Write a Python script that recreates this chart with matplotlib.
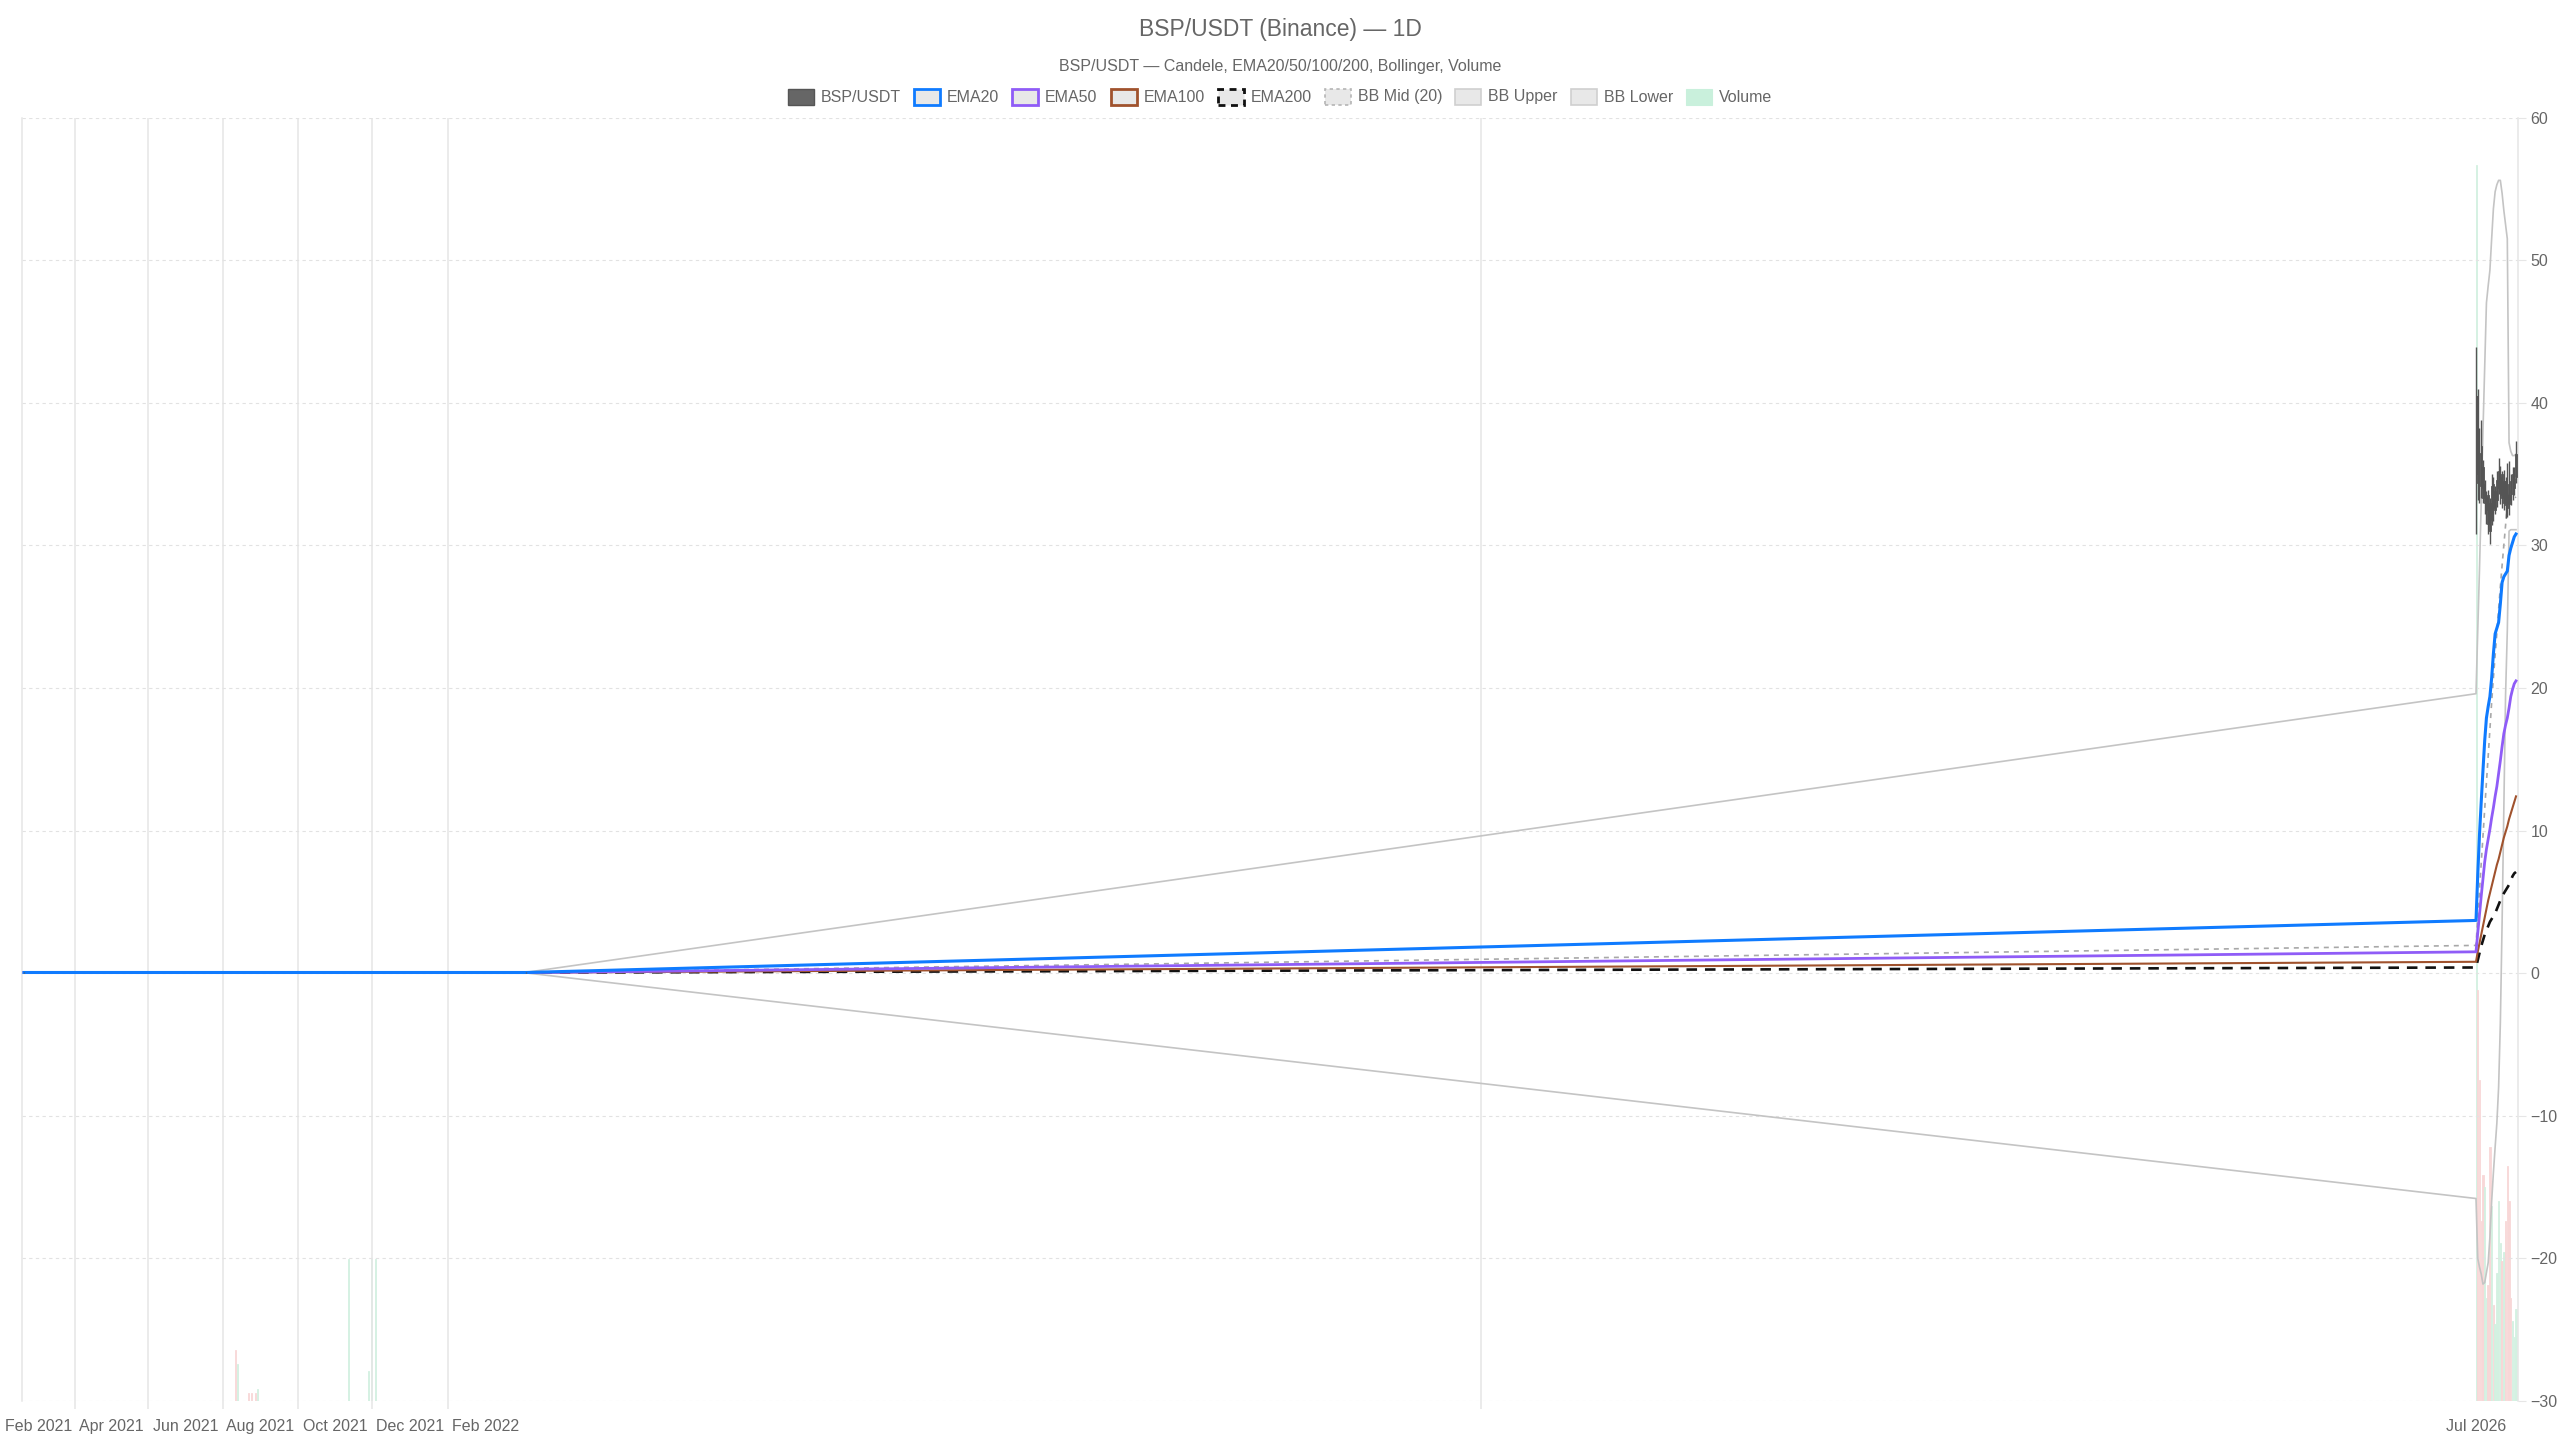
import numpy as np
import pandas as pd
import matplotlib
matplotlib.use('Agg')
import matplotlib.pyplot as plt
import matplotlib.dates as mdates
from matplotlib.patches import Rectangle
from matplotlib.ticker import FixedLocator, NullFormatter

plt.rcParams['font.family'] = ['Liberation Sans', 'DejaVu Sans']

# ---------------- data ----------------
# early listing period (price ~0) and the July 2026 run
early_dates = ['2021-01-20', '2022-03-06']
late_dates = pd.date_range('2026-07-01', '2026-07-24', freq='D').strftime('%Y-%m-%d').tolist()

early_open = [0.05, 0.04]
early_high = [0.06, 0.05]
early_low = [0.04, 0.03]
early_close = [0.05, 0.04]

late_open = [34.4, 40.5, 36.5, 37.0, 35.5, 33.0, 32.5, 33.5, 33.0, 31.8, 34.3, 32.5,
             33.2, 34.0, 33.5, 35.0, 33.0, 34.5, 34.3, 33.5, 34.5, 33.6, 34.0, 34.8]
late_high = [43.9, 41.0, 38.2, 38.8, 36.0, 34.6, 33.8, 33.9, 33.3, 35.0, 34.8, 34.2,
             35.2, 36.1, 35.6, 35.2, 35.3, 34.8, 35.8, 35.9, 35.0, 35.5, 35.5, 37.3]
late_low = [30.8, 33.2, 33.0, 33.3, 33.0, 32.2, 31.5, 30.8, 30.1, 31.4, 31.7, 32.2,
            32.7, 33.6, 32.9, 32.6, 32.5, 31.9, 32.0, 32.1, 32.8, 33.2, 33.5, 34.4]
late_close = [40.5, 35.0, 34.2, 34.0, 33.3, 34.3, 33.4, 31.5, 31.0, 34.2, 32.6, 33.8,
              34.6, 35.2, 34.8, 33.3, 34.5, 32.8, 32.6, 32.9, 33.2, 35.0, 34.7, 36.4]

ema20 = [0.05, 0.05,
         3.7, 6.9, 9.7, 12.0, 14.2, 16.3, 17.9, 18.7, 19.4, 20.7, 22.4, 23.8,
         24.2, 24.6, 25.9, 27.4, 27.8, 28.0, 28.2, 29.3, 29.8, 30.2, 30.6, 30.8]
ema50 = [0.05, 0.04,
         1.5, 2.8, 4.1, 5.4, 6.6, 7.8, 8.7, 9.4, 10.1, 10.9, 11.6, 12.4,
         13.1, 14.0, 14.9, 15.9, 16.8, 17.4, 17.9, 18.6, 19.4, 19.9, 20.3, 20.5]
ema100 = [0.05, 0.04,
          0.8, 1.5, 2.1, 2.7, 3.3, 3.9, 4.5, 5.1, 5.6, 6.1, 6.6, 7.1,
          7.6, 8.0, 8.5, 9.0, 9.5, 9.9, 10.3, 10.8, 11.2, 11.6, 12.0, 12.4]
ema200 = [0.05, 0.04,
          0.4, 0.9, 1.4, 1.9, 2.3, 2.7, 3.0, 3.3, 3.6, 3.8, 4.0, 4.2,
          4.5, 4.8, 5.1, 5.4, 5.6, 5.8, 6.0, 6.2, 6.5, 6.8, 7.0, 7.1]
bb_mid = [0.05, 0.04,
          1.95, 3.9, 5.8, 7.7, 9.6, 11.5, 13.4, 15.2, 17.1, 19.0, 20.7, 22.3,
          23.9, 25.5, 27.1, 28.6, 30.0, 31.4, 32.8, 33.9, 33.7, 33.5, 33.3, 33.4]
bb_upper = [0.07, 0.06,
            19.6, 24.0, 28.3, 33.0, 38.0, 42.5, 47.0, 48.2, 49.3, 51.5, 53.6, 54.8,
            55.3, 55.6, 55.6, 54.7, 53.5, 52.5, 51.5, 37.2, 36.6, 36.3, 36.3, 36.4]
bb_lower = [0.03, 0.02,
            -15.8, -20.0, -20.6, -21.1, -21.8, -21.7, -21.0, -20.3, -18.5, -16.0, -14.0, -12.2,
            -10.5, -8.0, -3.5, 3.5, 11.5, 19.5, 24.0, 31.0, 31.1, 31.1, 31.1, 31.1]

# volume (thousands)
early_vol_dates = ['2021-07-12', '2021-07-13', '2021-07-22', '2021-07-25', '2021-07-28',
                   '2021-07-30', '2021-10-12', '2021-10-28', '2021-10-31', '2021-11-03']
early_vol = [40, 29, 6, 6, 6, 9, 111, 23, 111, 111]
early_vol_up = [False, True, False, False, False, True, True, True, True, True]
late_vol = [963, 320, 250, 140, 176, 167, 80, 90, 198, 152, 75, 60,
            100, 156, 123, 109, 116, 140, 183, 156, 80, 62, 50, 72]

tick_dates = ['2021-02-01', '2021-04-01', '2021-06-01', '2021-08-01', '2021-10-01',
              '2021-12-01', '2022-02-01', '2026-07-01']
tick_labels = ['Feb 2021', 'Apr 2021', 'Jun 2021', 'Aug 2021', 'Oct 2021',
               'Dec 2021', 'Feb 2022', 'Jul 2026']

# ---------------- time axis (gap between listings compressed) ----------------
def dn(d):
    return mdates.date2num(pd.to_datetime(d))

seg_d = dn([early_dates[0], early_dates[-1], late_dates[0], late_dates[-1]])
seg_p = np.array([24.0, 526.0, 2476.0, 2516.0])
r0 = (seg_p[1] - seg_p[0]) / (seg_d[1] - seg_d[0])
r1 = (seg_p[3] - seg_p[2]) / (seg_d[3] - seg_d[2])
anc_d = np.concatenate([[seg_d[0] - 5000], seg_d, [seg_d[3] + 5000]])
anc_p = np.concatenate([[seg_p[0] - 5000 * r0], seg_p, [seg_p[3] + 5000 * r1]])

def fwd(x):
    return np.interp(np.asarray(x, dtype=float), anc_d, anc_p)

def inv(p):
    return np.interp(np.asarray(p, dtype=float), anc_p, anc_d)

# ---------------- figure ----------------
W, H = 2560, 1440
fig = plt.figure(figsize=(25.6, 14.4), dpi=100)
fig.patch.set_facecolor('white')
left_px, right_px, top_px, bot_px = 22, 2518, 117.6, 1401
ax = fig.add_axes([left_px / W, 1 - bot_px / H, (right_px - left_px) / W, (bot_px - top_px) / H])
ax.set_xscale('function', functions=(fwd, inv))
axv = ax.twinx()
ax.set_zorder(2)
axv.set_zorder(1)
ax.patch.set_visible(False)

text_c = '#666666'
grid_c = '#e6e6e6'

all_dates = dn(early_dates + late_dates)
ld = dn(late_dates)

# volume
vol_x = np.concatenate([dn(early_vol_dates), ld])
vol_y = early_vol + late_vol
vol_up = early_vol_up + [c >= o for o, c in zip(late_open, late_close)]
vol_col = ['#d3f1e1' if u else '#f8d7d7' for u in vol_up]
axv.bar(vol_x, vol_y, width=0.8, color=vol_col, linewidth=0.6, edgecolor=vol_col)
axv.set_ylim(0, 1000)
axv.yaxis.set_visible(False)
for s in axv.spines.values():
    s.set_visible(False)

# bollinger
ax.plot(all_dates, bb_upper, color='#c4c4c4', lw=1.2, zorder=2)
ax.plot(all_dates, bb_lower, color='#c4c4c4', lw=1.2, zorder=2)
ax.plot(all_dates, bb_mid, color='#a8a8a8', lw=1.2, ls=(0, (3, 3)), zorder=3)

# EMAs
ax.plot(all_dates, ema200, color='#111111', lw=1.9, ls=(0, (4, 3)), zorder=4)
ax.plot(all_dates, ema100, color='#a0522d', lw=1.5, zorder=5)
ax.plot(all_dates, ema50, color='#8f5cf7', lw=2.0, zorder=6)
ax.plot(all_dates, ema20, color='#0f7bff', lw=2.2, zorder=7)

# candles
c_open = early_open + late_open
c_high = early_high + late_high
c_low = early_low + late_low
c_close = early_close + late_close
body_lo = np.minimum(c_open, c_close)
body_h = np.abs(np.array(c_close) - np.array(c_open))
ax.vlines(all_dates, c_low, c_high, color='#555555', lw=1.0, zorder=8)
ax.bar(all_dates, body_h, bottom=body_lo, width=0.8, color='#555555',
       edgecolor='#555555', linewidth=0.6, zorder=9)

# axes styling
ax.set_xlim(inv(left_px), inv(right_px))
ax.set_ylim(-30, 60)
ax.yaxis.tick_right()
ax.set_yticks(range(-30, 61, 10))
ax.tick_params(axis='y', which='major', length=6, color=grid_c, width=0.8,
               labelsize=11.5, labelcolor=text_c, pad=3)
ax.grid(axis='y', which='major', color='#e2e2e2', lw=0.8, ls=(0, (3, 3)))

td = dn(tick_dates)
tp = fwd(td)
mids = inv((tp[:-1] + tp[1:]) / 2)
ax.xaxis.set_major_locator(FixedLocator(td))
ax.set_xticklabels(tick_labels)
ax.xaxis.set_minor_locator(FixedLocator(mids))
ax.xaxis.set_minor_formatter(NullFormatter())
ax.tick_params(axis='x', which='major', length=0, labelsize=11.5, labelcolor=text_c, pad=13)
ax.tick_params(axis='x', which='minor', length=6, color=grid_c, width=1.1)
ax.grid(axis='x', which='minor', color=grid_c, lw=1.1)
ax.grid(axis='x', which='major', visible=False)

for side in ['top', 'bottom']:
    ax.spines[side].set_visible(False)
for side in ['left', 'right']:
    ax.spines[side].set_color(grid_c)
    ax.spines[side].set_linewidth(1.1)

# titles
fig.text(0.5, 1 - 29.5 / H, 'BSP/USDT (Binance) — 1D', ha='center', va='center',
         fontsize=16.5, color=text_c)
fig.text(0.5, 1 - 66.5 / H, 'BSP/USDT — Candele, EMA20/50/100/200, Bollinger, Volume',
         ha='center', va='center', fontsize=11.5, color=text_c)

# legend
legend_items = [
    ('BSP/USDT', '#666666', '#555555', 1.0, '-'),
    ('EMA20', '#e8e8e8', '#0f7bff', 2.0, '-'),
    ('EMA50', '#e8e8e8', '#8f5cf7', 2.0, '-'),
    ('EMA100', '#e8e8e8', '#a0522d', 2.0, '-'),
    ('EMA200', '#e8e8e8', '#111111', 2.0, (0, (2.5, 2))),
    ('BB Mid (20)', '#e8e8e8', '#b5b5b5', 1.2, (0, (2, 2))),
    ('BB Upper', '#e8e8e8', '#cfcfcf', 1.2, '-'),
    ('BB Lower', '#e8e8e8', '#cfcfcf', 1.2, '-'),
    ('Volume', '#c9f0dc', '#c9f0dc', 0.8, '-'),
]
renderer = fig.canvas.get_renderer()
box_w, box_h, gap_in, gap_out = 26, 16, 7, 13
widths = []
for lab, *_ in legend_items:
    t = fig.text(0, 0, lab, fontsize=11.5)
    widths.append(t.get_window_extent(renderer).width)
    t.remove()
total = sum(box_w + gap_in + w for w in widths) + gap_out * (len(widths) - 1)
x = W / 2 - total / 2
y = H - 97
for (lab, fc, ec, lw, ls), w in zip(legend_items, widths):
    fig.add_artist(Rectangle((x / W, (y - box_h / 2) / H), box_w / W, box_h / H,
                             transform=fig.transFigure, facecolor=fc, edgecolor=ec,
                             linewidth=lw, linestyle=ls))
    fig.text((x + box_w + gap_in) / W, y / H, lab, ha='left', va='center',
             fontsize=11.5, color=text_c)
    x += box_w + gap_in + w + gap_out

fig.savefig('out.png', dpi=100, facecolor='white')
